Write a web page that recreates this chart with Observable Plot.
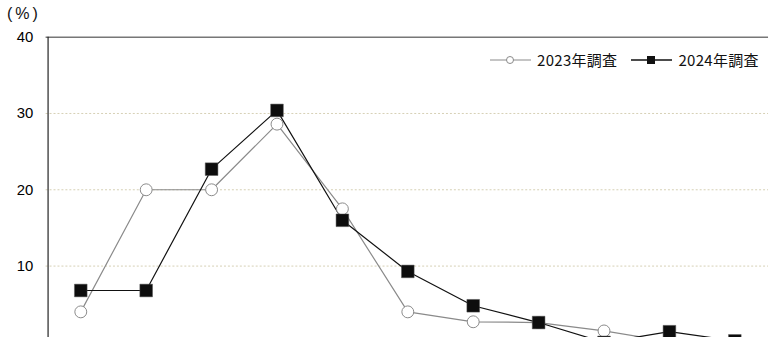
<!DOCTYPE html>
<html>
<head>
<meta charset="utf-8">
<script src="https://cdn.jsdelivr.net/npm/d3@7"></script>
<script src="https://cdn.jsdelivr.net/npm/@observablehq/plot@0.6"></script>
<style>
  html, body { margin: 0; padding: 0; background: #fff; overflow: hidden; width: 773px; height: 337px; }
  #wrap { position: relative; width: 773px; height: 337px; overflow: hidden; }
  #unit { position: absolute; left: 7px; top: 4px; font: 16px "Liberation Sans", Arial, sans-serif; letter-spacing: 3px; color: #111; line-height: 20px; }
  #legend { position: absolute; left: 490px; top: 50px; font: 15px "Noto Sans CJK JP", sans-serif; letter-spacing: 0.3px; color: #111; display: flex; align-items: center; line-height: 20px; }
  #legend .item { display: flex; align-items: center; }
  #legend svg { display: block; }
  #chart svg [aria-label="y-axis tick label"], #chart svg [aria-label="y-axis tick label"] text {
    font-size: 15px !important; font-family: "Liberation Sans", Arial, sans-serif !important; fill: #000 !important;
  }
</style>
</head>
<body>
<div id="wrap">
  <div id="chart"></div>
  <div id="unit">(%)</div>
  <div id="legend"></div>
</div>
<script>
const categories = ["1", "2", "3", "4", "5", "6", "7", "8", "9", "10", "11"];
const series2023 = [4.0, 20.0, 20.0, 28.6, 17.5, 4.0, 2.7, 2.6, 1.5, 0.1, 0.0];
const series2024 = [6.8, 6.8, 22.7, 30.4, 16.0, 9.3, 4.8, 2.6, 0.0, 1.4, 0.2];
const seriesNames = ["2023年調査", "2024年調査"];
const yTicks = [10, 20, 30, 40];

const d23 = categories.map((c, i) => ({cat: c, v: series2023[i]}));
const d24 = categories.map((c, i) => ({cat: c, v: series2024[i]}));

const chart = Plot.plot({
  width: 780,
  height: 375,
  marginLeft: 46,
  marginRight: 5,
  marginTop: 37,
  marginBottom: 30,
  style: {fontFamily: "'Liberation Sans', Arial, sans-serif", fontSize: "15px", color: "#000", background: "#fff"},
  x: {type: "point", domain: categories, padding: 0.5, axis: null},
  y: {domain: [0, 40], axis: null},
  marks: [
    Plot.axisY({ticks: yTicks, tickSize: 0, tickPadding: 13, label: null, fontSize: 15, fill: "#000"}),
    Plot.ruleY([10, 20, 30], {stroke: "#d6cfb4", strokeDasharray: "2,2", strokeWidth: 1}),
    Plot.ruleY([40], {stroke: "#777", strokeWidth: 1.5}),
    Plot.ruleX([categories[0]], {x: () => categories[0], dx: -33, stroke: "#222", strokeWidth: 1.2}),
    Plot.line(d23, {x: "cat", y: "v", stroke: "#8a8a8a", strokeWidth: 1.2}),
    Plot.line(d24, {x: "cat", y: "v", stroke: "#111", strokeWidth: 1.2}),
    Plot.dot(d23, {x: "cat", y: "v", r: 6, fill: "#fff", stroke: "#8a8a8a", strokeWidth: 1}),
    Plot.dot(d24, {x: "cat", y: "v", symbol: "square", r: 7.2, fill: "#0d0d0d", stroke: "#555", strokeWidth: 0.5})
  ]
});
document.getElementById("chart").appendChild(chart);

// legend
const legend = document.getElementById("legend");
function item(name, kind, gapAfter) {
  const el = document.createElement("div");
  el.className = "item";
  el.style.marginRight = gapAfter + "px";
  const ns = "http://www.w3.org/2000/svg";
  const s = document.createElementNS(ns, "svg");
  s.setAttribute("width", 41); s.setAttribute("height", 14);
  const l = document.createElementNS(ns, "line");
  l.setAttribute("x1", 0); l.setAttribute("x2", 41); l.setAttribute("y1", 7); l.setAttribute("y2", 7);
  l.setAttribute("stroke", kind === "circle" ? "#8a8a8a" : "#111");
  l.setAttribute("stroke-width", kind === "circle" ? 1 : 1.3);
  s.appendChild(l);
  if (kind === "circle") {
    const c = document.createElementNS(ns, "circle");
    c.setAttribute("cx", 20); c.setAttribute("cy", 7); c.setAttribute("r", 3.5);
    c.setAttribute("fill", "#fff"); c.setAttribute("stroke", "#8a8a8a");
    s.appendChild(c);
  } else {
    const r = document.createElementNS(ns, "rect");
    r.setAttribute("x", 16); r.setAttribute("y", 3); r.setAttribute("width", 8); r.setAttribute("height", 8);
    r.setAttribute("fill", "#111");
    s.appendChild(r);
  }
  el.appendChild(s);
  const t = document.createElement("span");
  t.textContent = name;
  t.style.marginLeft = "6px";
  el.appendChild(t);
  legend.appendChild(el);
}
item(seriesNames[0], "circle", 14);
item(seriesNames[1], "square", 0);
</script>
</body>
</html>
